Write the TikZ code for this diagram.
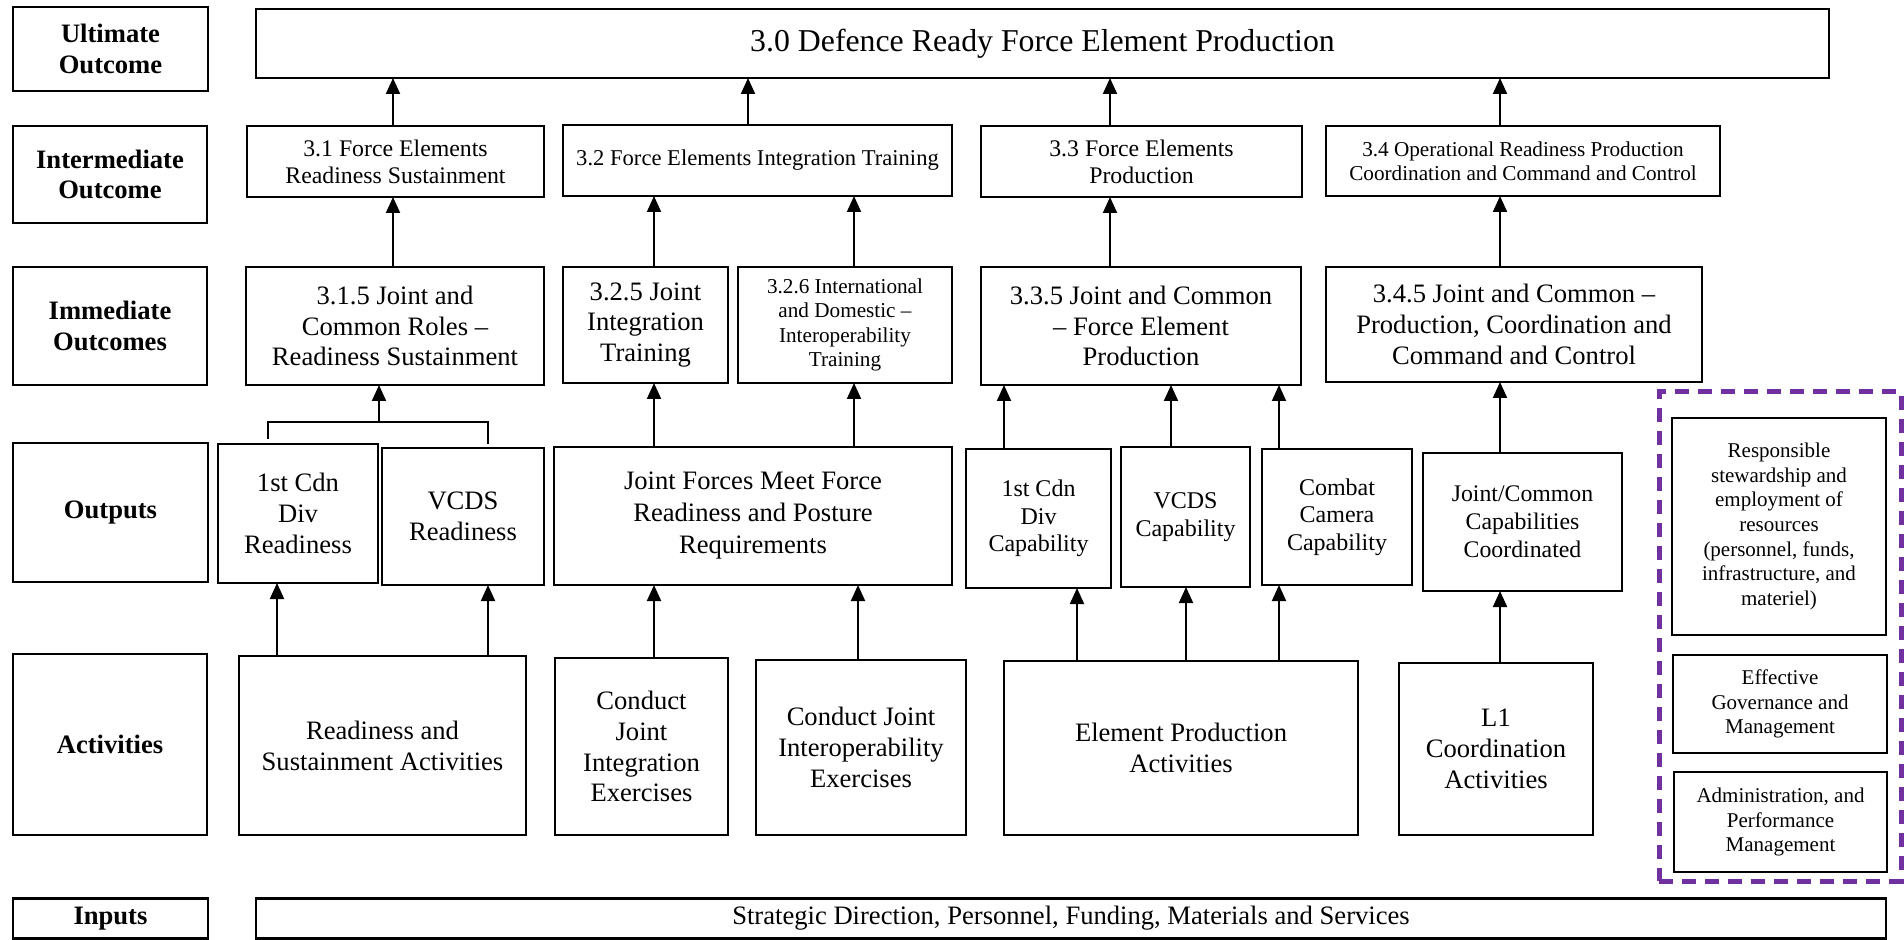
\documentclass[tikz,border=0pt]{standalone}
\usepackage{fontspec}
\setmainfont{Liberation Serif}
\usetikzlibrary{arrows.meta}
\definecolor{dashpurple}{RGB}{112,48,160}
\newcommand\fs[2]{\fontsize{#1}{#2}\selectfont}
\begin{document}
\begin{tikzpicture}[x=0.5pt,y=-0.5pt,
  box/.style={draw, line width=1.1pt, inner sep=2pt, outer sep=0pt, align=center},
  lbl/.style={box, font=\fs{13.3}{15.3}\bfseries},
  txtA/.style={font=\fs{13.3}{15.4}},
  txtB/.style={font=\fs{11.9}{13.6}},
  txtC/.style={font=\fs{10.6}{12}},
  txtD/.style={font=\fs{12}{13.8}},
  arr/.style={line width=1pt, -{Triangle[length=8pt,width=7pt]}},
  conn/.style={line width=1pt},
  ]
\useasboundingbox (0,0) rectangle (1904,940);

% row labels
\node[lbl, minimum width=97.5pt, minimum height=42pt] (lUlt) at (110.5,49) {Ultimate\\Outcome};
\node[lbl, minimum width=97pt, minimum height=48.5pt] (lInt) at (110,174.5) {Intermediate\\Outcome};
\node[lbl, minimum width=97pt, minimum height=59pt] (lImm) at (110,326) {Immediate\\Outcomes};
\node[lbl, minimum width=97.5pt, minimum height=69.5pt] (lOut) at (110.5,512.5) {Outputs};
\node[lbl, minimum width=97pt, minimum height=90.5pt] (lAct) at (110,744.5) {Activities};
\node[lbl, minimum width=97.5pt, minimum height=20pt] (lInp) at (110.5,918.5) {Inputs};

% ultimate
\node[box, font=\fs{15.9}{18}, minimum width=786.5pt, minimum height=34.5pt] (n30) at (1042.5,43.5) {3.0 Defence Ready Force Element Production};

% intermediate
\node[box, txtB, minimum width=148.5pt, minimum height=35.5pt] (n31) at (395.5,161.5) {3.1 Force Elements\\Readiness Sustainment};
\node[box, font=\fs{11.3}{13}, minimum width=194.5pt, minimum height=35.5pt] (n32) at (757.5,160.5) {3.2 Force Elements Integration Training};
\node[box, txtB, minimum width=160.5pt, minimum height=35.5pt] (n33) at (1141.5,161.5) {3.3 Force Elements\\Production};
\node[box, txtC, minimum width=197pt, minimum height=35pt] (n34) at (1523,161) {3.4 Operational Readiness Production\\Coordination and Command and Control};

% immediate
\node[box, txtA, minimum width=149pt, minimum height=59pt] (n315) at (395,326) {3.1.5 Joint and\\Common Roles --\\Readiness Sustainment};
\node[box, txtA, minimum width=82.5pt, minimum height=58pt] (n325) at (645.5,325) {3.2.5 Joint\\Integration\\Training};
\node[box, font=\fs{10.6}{12.3}, minimum width=107pt, minimum height=58pt] (n326) at (845,325) {3.2.6 International\\and Domestic --\\Interoperability\\Training};
\node[box, txtA, minimum width=160pt, minimum height=59pt] (n335) at (1141,326) {3.3.5 Joint and Common\\-- Force Element\\Production};
\node[box, txtA, minimum width=188pt, minimum height=57.5pt] (n345) at (1514,324.5) {3.4.5 Joint and Common --\\Production, Coordination and\\Command and Control};

% outputs
\node[box, txtA, minimum width=80pt, minimum height=69.5pt] (oCdnR) at (298,513.5) {1st Cdn\\Div\\Readiness};
\node[box, txtA, minimum width=81pt, minimum height=68.5pt] (oVcdsR) at (463,516.5) {VCDS\\Readiness};
\node[box, font=\fs{13.3}{16}, minimum width=199pt, minimum height=69pt] (oJF) at (753,516) {Joint Forces Meet Force\\Readiness and Posture\\Requirements};
\node[box, txtD, minimum width=72.5pt, minimum height=69.5pt] (oCdnC) at (1038.5,518.5) {1st Cdn\\Div\\Capability};
\node[box, txtD, minimum width=64.5pt, minimum height=70pt] (oVcdsC) at (1185.5,517) {VCDS\\Capability};
\node[box, txtD, minimum width=75pt, minimum height=68pt] (oCC) at (1337,517) {Combat\\Camera\\Capability};
\node[box, font=\fs{11.9}{14}, minimum width=99.5pt, minimum height=69pt] (oJC) at (1522.5,522) {Joint/Common\\Capabilities\\Coordinated};

% activities
\node[box, txtA, minimum width=143.5pt, minimum height=89.5pt] (aRS) at (382.5,745.5) {Readiness and\\Sustainment Activities};
\node[box, txtA, minimum width=86.5pt, minimum height=88.5pt] (aCJIE) at (641.5,746.5) {Conduct\\Joint\\Integration\\Exercises};
\node[box, txtA, minimum width=105pt, minimum height=87.5pt] (aCJInt) at (861,747.5) {Conduct Joint\\Interoperability\\Exercises};
\node[box, txtA, minimum width=177pt, minimum height=87pt] (aEP) at (1181,748) {Element Production\\Activities};
\node[box, txtA, minimum width=97pt, minimum height=86pt] (aL1) at (1496,749) {L1\\Coordination\\Activities};

% inputs
\node[box, txtA, minimum width=815pt, minimum height=20pt] (inp) at (1071,918.5) {Strategic Direction, Personnel, Funding, Materials and Services};

% management group
\node[draw=dashpurple, line width=2.5pt, dash pattern=on 7pt off 4.5pt, inner sep=0pt, minimum width=121pt, minimum height=244.5pt] (grp) at (1780,636.5) {};
\node[box, font=\fs{10.5}{12.3}, minimum width=107pt, minimum height=108.5pt] (rResp) at (1779,526.5) {Responsible\\stewardship and\\employment of\\resources\\(personnel, funds,\\infrastructure, and\\materiel)};
\node[box, font=\fs{10.5}{12.3}, minimum width=107pt, minimum height=49pt] (rEff) at (1780,704) {Effective\\Governance and\\Management};
\node[box, font=\fs{10.5}{12.3}, minimum width=106.5pt, minimum height=50pt] (rAdm) at (1780.5,822) {Administration, and\\Performance\\Management};

% connectors: intermediate -> ultimate
\draw[arr] (n31.north -| 393,0) -- (n30.south -| 393,0);
\draw[arr] (n32.north -| 748,0) -- (n30.south -| 748,0);
\draw[arr] (n33.north -| 1110,0) -- (n30.south -| 1110,0);
\draw[arr] (n34.north -| 1500,0) -- (n30.south -| 1500,0);

% immediate -> intermediate
\draw[arr] (n315.north -| 393,0) -- (n31.south -| 393,0);
\draw[arr] (n325.north -| 654,0) -- (n32.south -| 654,0);
\draw[arr] (n326.north -| 854,0) -- (n32.south -| 854,0);
\draw[arr] (n335.north -| 1110,0) -- (n33.south -| 1110,0);
\draw[arr] (n345.north -| 1500,0) -- (n34.south -| 1500,0);

% outputs -> immediate
\coordinate (brL) at (268,439);
\coordinate (brR) at (488,444);
\coordinate (bj) at (379,422);
\draw[conn] (brL) |- (bj) -| (brR);
\draw[arr] (bj) -- (n315.south -| bj);
\draw[arr] (oJF.north -| 654,0) -- (n325.south -| 654,0);
\draw[arr] (oJF.north -| 854,0) -- (n326.south -| 854,0);
\draw[arr] (oCdnC.north -| 1004,0) -- (n335.south -| 1004,0);
\draw[arr] (oVcdsC.north -| 1171,0) -- (n335.south -| 1171,0);
\draw[arr] (oCC.north -| 1279,0) -- (n335.south -| 1279,0);
\draw[arr] (oJC.north -| 1500,0) -- (n345.south -| 1500,0);

% activities -> outputs
\draw[arr] (aRS.north -| 277,0) -- (oCdnR.south -| 277,0);
\draw[arr] (aRS.north -| 488,0) -- (oVcdsR.south -| 488,0);
\draw[arr] (aCJIE.north -| 654,0) -- (oJF.south -| 654,0);
\draw[arr] (aCJInt.north -| 858,0) -- (oJF.south -| 858,0);
\draw[arr] (aEP.north -| 1077,0) -- (oCdnC.south -| 1077,0);
\draw[arr] (aEP.north -| 1186,0) -- (oVcdsC.south -| 1186,0);
\draw[arr] (aEP.north -| 1279,0) -- (oCC.south -| 1279,0);
\draw[arr] (aL1.north -| 1500,0) -- (oJC.south -| 1500,0);
\end{tikzpicture}
\end{document}
